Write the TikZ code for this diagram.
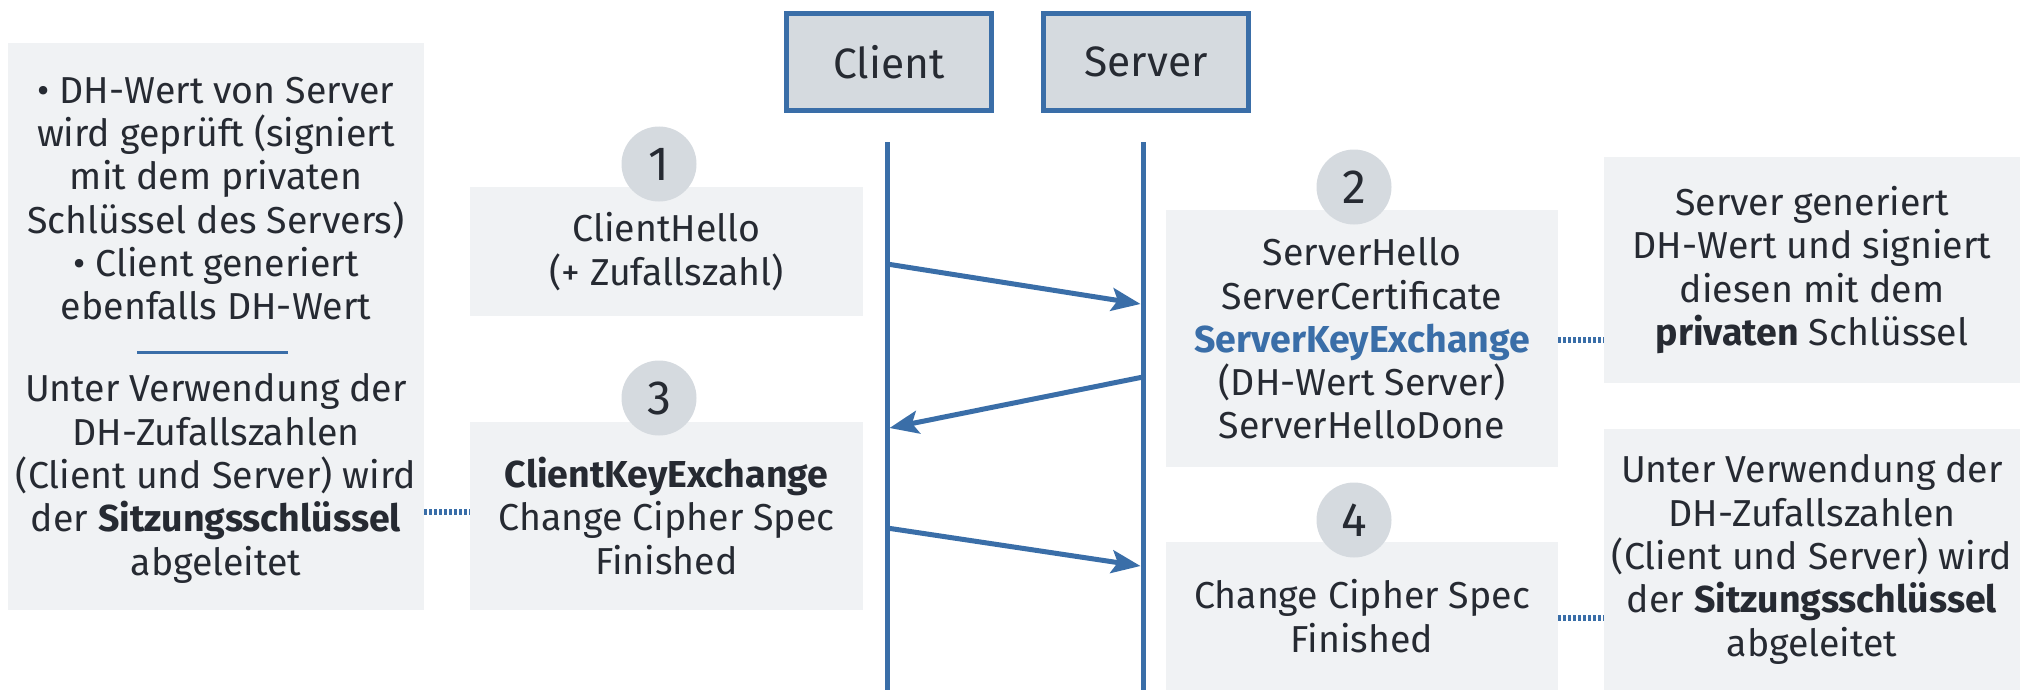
\documentclass[tikz,border=0pt]{standalone}
\usepackage{fontspec}
\setmainfont{Fira Sans}
\usetikzlibrary{arrows.meta}
\definecolor{lineblue}{RGB}{58,110,168}
\definecolor{boxgray}{RGB}{240,242,244}
\definecolor{headgray}{RGB}{213,218,223}
\definecolor{ink}{RGB}{38,42,50}
\begin{document}
\begin{tikzpicture}[x=1pt,y=-1pt,
  panel/.style={fill=boxgray,draw=none,inner sep=0pt,text=ink,align=center,
    font=\fontsize{37.5}{43.3}\selectfont},
  bodytext/.style={text=ink,align=center,inner sep=0pt,font=\fontsize{37.5}{43.3}\selectfont},
  party/.style={fill=headgray,draw=lineblue,line width=5pt,text=ink,
    minimum width=205pt,minimum height=97pt,inner sep=0pt,font=\fontsize{42.5}{50}\selectfont},
  stepno/.style={circle,fill=headgray,minimum size=75pt,inner sep=0pt,text=ink,
    font=\fontsize{48}{56}\selectfont},
  lifeline/.style={draw=lineblue,line width=5pt},
  msg/.style={draw=lineblue,line width=5pt,-{Stealth[length=29pt,width=23pt,inset=6pt]}},
  note/.style={draw=lineblue,line width=6pt,dash pattern=on 2.5pt off 2.5pt}
]
\useasboundingbox (0,0) rectangle (2020,690);

% participants
\node[party] (client) at (889,62) {Client};
\node[party] (server) at (1146,62) {Server};

% lifelines
\coordinate (clTop) at (887,142);
\coordinate (clBot) at (887,690);
\coordinate (svTop) at (1143,142);
\coordinate (svBot) at (1143,690);
\draw[lifeline] (clTop) -- (clBot);
\draw[lifeline] (svTop) -- (svBot);

% message panels
\node[panel,minimum width=393pt,minimum height=129pt] (m1) at (666.5,251.5)
  {ClientHello\\(+ Zufallszahl)};
\node[panel,minimum width=393pt,minimum height=188pt] (m3) at (666.5,516)
  {\textbf{ClientKeyExchange}\\Change Cipher Spec\\Finished};
\node[panel,minimum width=392pt,minimum height=257pt] (m2) at (1362,338.5)
  {ServerHello\\ServerCertificate\\\textbf{\textcolor{lineblue}{ServerKeyExchange}}\\(DH-Wert Server)\\ServerHelloDone};
\node[panel,minimum width=392pt,minimum height=148pt] (m4) at (1362,616)
  {Change Cipher Spec\\Finished};

% step numbers
\node[stepno] (s1) at (659,164) {1};
\node[stepno] (s3) at (659,398) {3};
\node[stepno] (s2) at (1354,187) {2};
\node[stepno] (s4) at (1354,520) {4};

% side notes
\node[panel,minimum width=416pt,minimum height=567pt] (left) at (216,326.5) {};
\node[bodytext] (leftA) at (216,198.5)
  {• DH-Wert von Server\\wird geprüft (signiert\\mit dem privaten\\Schlüssel des Servers)\\• Client generiert\\ebenfalls DH-Wert};
\coordinate (ruleL) at (137,352);
\coordinate (ruleR) at (288,352);
\draw[draw=lineblue,line width=3pt] (ruleL) -- (ruleR);
\node[bodytext] (leftB) at (216,478.5)
  {Unter Verwendung der\\DH-Zufallszahlen\\(Client und Server) wird\\der \textbf{Sitzungsschlüssel}\\abgeleitet};

\node[panel,minimum width=416pt,minimum height=226pt] (r1) at (1812,270)
  {Server generiert\\DH-Wert und signiert\\diesen mit dem\\\textbf{privaten} Schlüssel};
\node[panel,minimum width=416pt,minimum height=261pt] (r2) at (1812,559.5)
  {Unter Verwendung der\\DH-Zufallszahlen\\(Client und Server) wird\\der \textbf{Sitzungsschlüssel}\\abgeleitet};

% dotted links between panels and notes
\draw[note] (left.east |- 0,512) -- (m3.west |- 0,512);
\draw[note] (m2.east |- 0,340) -- (r1.west |- 0,340);
\draw[note] (m4.east |- 0,618) -- (r2.west |- 0,618);

% messages
\coordinate (a1s) at (887,264);
\coordinate (a1e) at (1140.5,304);
\coordinate (a2s) at (1143,377);
\coordinate (a2e) at (889.5,428);
\coordinate (a3s) at (887,528);
\coordinate (a3e) at (1140.5,566);
\draw[msg] (a1s) -- (a1e);
\draw[msg] (a2s) -- (a2e);
\draw[msg] (a3s) -- (a3e);
\end{tikzpicture}
\end{document}
